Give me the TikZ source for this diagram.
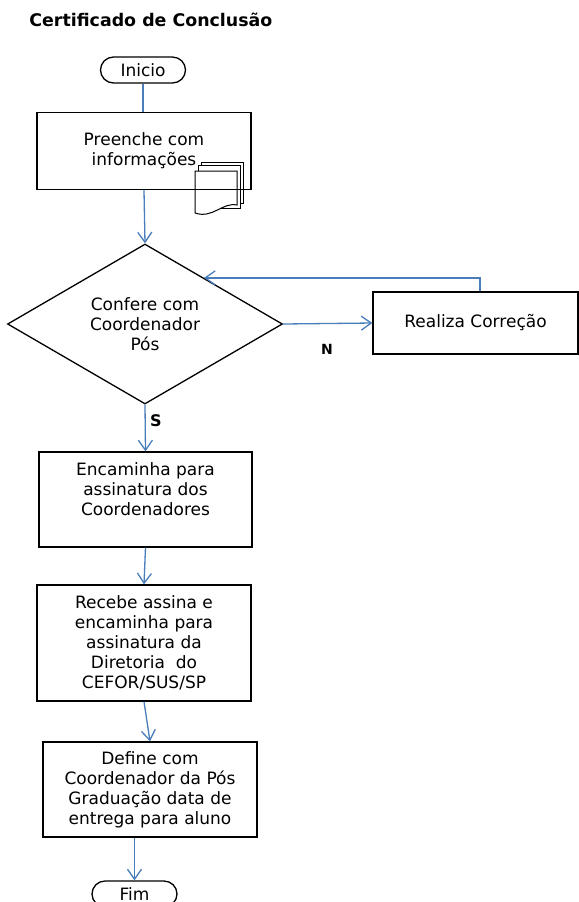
\documentclass[tikz,border=0pt]{standalone}
\usepackage{fontspec}
\setmainfont{DejaVu Sans}
\usetikzlibrary{shapes.geometric}
\usetikzlibrary{shapes.misc}
\usetikzlibrary{arrows.meta}
\definecolor{linkblue}{RGB}{74,126,187}
\begin{document}
\begin{tikzpicture}[
    x=0.5pt, y=-0.5pt,
    >={Straight Barb[length=5pt,width=7pt]},
    box/.style={
        rectangle,
        draw,
        line width=0.65pt,
        minimum width={107pt},
        align=center,
        font=\fontsize{8.5}{10}\selectfont
    },
    terminal/.style={
        rounded rectangle,
        draw,
        line width=0.65pt,
        minimum width={42.5pt},
        minimum height={13pt},
        inner sep=0pt,
        font=\fontsize{8.5}{10}\selectfont
    },
    decision/.style={
        diamond,
        draw,
        line width=0.65pt,
        aspect=1.7,
        inner sep=1pt,
        minimum width={137.5pt},
        minimum height={80pt},
        align=center,
        font=\fontsize{8.5}{10}\selectfont
    },
    flow/.style={draw=linkblue, line width=0.65pt},
    page/.style={draw, fill=white, line width=0.5pt}
]
\useasboundingbox (0,0) rectangle (579,902);

\node [anchor=base west, inner sep=0pt, font=\fontsize{8.7}{10}\bfseries] (title) at (29,26) {Certificado de Conclusão};

\node [terminal] (inicio) at (143,70) {Inicio};

% documentos
\path [page] (201,162) rectangle (243,203);
\path [page] (198,165) rectangle (240,208);
\path [page] (195,171) -- (237,171) -- (237,205) .. controls (222,202) and (213,219) .. (195,213) -- cycle;

\node [box, minimum height={38.5pt}] (prep) at (144,151) {Preenche com\\informações};
\node [decision] (confere) at (145,324) {Confere com\\Coordenador\\Pós};
\node [box, minimum width={102.5pt}, minimum height={31pt}] (realiza) at (475.5,323) {Realiza Correção};

\node [box, minimum width={106.5pt}, minimum height={47.5pt}] (encam) at (145.5,499.5) {Encaminha para\\assinatura dos\\Coordenadores\\~};
\node [box, minimum height={58pt}] (recebe) at (144,643) {Recebe assina e\\encaminha para\\assinatura da\\Diretoria~ do\\CEFOR/SUS/SP};
\node [box, minimum height={47.5pt}] (define) at (150,789.5) {Define com\\Coordenador da Pós\\Graduação data de\\entrega para aluno};

\node [terminal] (fim) at (134.5,894) {Fim};

\node [font=\fontsize{7}{8}\bfseries] (labn) at (327,349) {N};
\node [font=\fontsize{8}{9}\bfseries] (labs) at (156,421) {S};

\draw[flow] (inicio.south) -- (inicio.south |- prep.north);
\draw[flow,->] (prep.south) -- (confere.north);
\draw[flow,->] (confere.east) -- (realiza.west);
\draw[flow,->] ([xshift=2.25pt]realiza.north) |- (confere.38);
\draw[flow,->] (confere.south) -- (encam.north);
\draw[flow,->] (encam.south) -- (recebe.north);
\draw[flow,->] (recebe.south) -- (define.north);
\draw[flow,->] (define.south -| fim.north) -- (fim.north);
\end{tikzpicture}
\end{document}
